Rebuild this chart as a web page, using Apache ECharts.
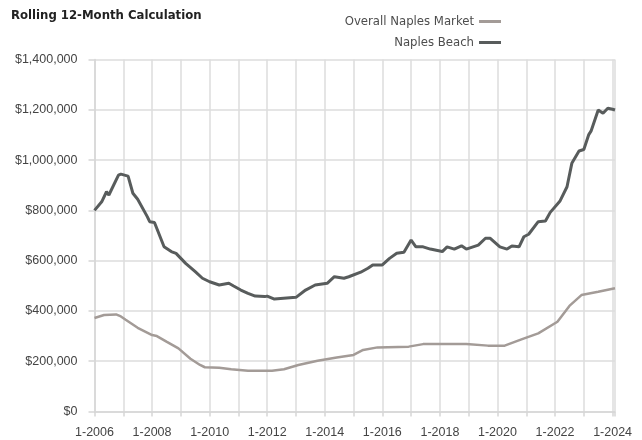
<!DOCTYPE html>
<html>
<head>
<meta charset="utf-8">
<script src="https://cdn.jsdelivr.net/npm/echarts@6/dist/echarts.min.js"></script>
<style>
  html, body { margin: 0; padding: 0; background: #fff; }
  #chart { width: 642px; height: 440px; }
</style>
</head>
<body>
<div id="chart"></div>
<script>
// months counted from 1-2006 (0 = Jan 2006)
const beachMonths = [0, 3, 5, 6, 7, 10, 11, 14, 16, 18, 22, 23, 25, 29, 32, 34, 38, 42, 45, 48,
  52, 56, 58, 61, 64, 67, 71, 72, 75, 84, 88, 92, 97, 100, 104, 106, 111, 114, 116, 120,
  123, 126, 129, 132, 134, 137, 140, 145, 147, 150, 153, 155, 160, 163, 165, 169, 172, 174, 177, 179,
  181, 185, 188, 190, 194, 197, 199, 202, 204, 206, 207, 210, 212, 214, 216, 217]
const beachValues = [800000, 834000, 874000, 861000, 881000, 940000, 944000, 936000, 868000, 844000,
  775000, 755000, 752000, 655000, 636000, 629000, 589000, 556000, 530000, 516000,
  503000, 510000, 499000, 483000, 470000, 459000, 457000, 459000, 447000, 454000,
  483000, 503000, 510000, 536000, 530000, 536000, 554000, 570000, 583000, 583000,
  609000, 629000, 633000, 682000, 655000, 655000, 646000, 636000, 655000, 646000,
  659000, 646000, 662000, 689000, 689000, 655000, 646000, 658000, 655000, 695000,
  705000, 755000, 758000, 792000, 836000, 894000, 987000, 1036000, 1042000, 1100000,
  1115000, 1199000, 1186000, 1206000, 1202000, 1199000]

const marketMonths = [0, 4, 9, 11, 13, 18, 24, 26, 30, 35, 40, 44, 46, 52, 57, 64, 74, 79, 85, 93,
  101, 108, 112, 118, 131, 137, 155, 164, 171, 178, 185, 193, 198, 203, 210, 217]
const marketValues = [372000, 384000, 386000, 378000, 365000, 333000, 304000, 300000, 278000, 251000,
  210000, 185000, 176000, 174000, 168000, 162000, 162000, 168000, 185000, 202000,
  215000, 225000, 245000, 255000, 258000, 268000, 268000, 262000, 262000, 287000,
  311000, 357000, 420000, 463000, 476000, 490000]

const yTicks = [0, 200000, 400000, 600000, 800000, 1000000, 1200000, 1400000]

const seriesNames = ['Overall Naples Market', 'Naples Beach']
const seriesColors = ['#a39b97', '#585c5c']

const narrow = '"Liberation Sans Narrow", "DejaVu Sans Condensed", sans-serif'
const regular = '"Liberation Sans", Arial, sans-serif'

const pairs = (xs, ys) => xs.map((x, i) => [x, ys[i]])

const chart = echarts.init(document.getElementById('chart'), null, { renderer: 'canvas' })

chart.setOption({
  animation: false,
  backgroundColor: '#fff',
  title: {
    text: 'Rolling 12-Month Calculation',
    left: 6,
    top: 4,
    textStyle: { fontFamily: narrow, fontSize: 13, fontWeight: 'bold', color: '#222' }
  },
  legend: {
    data: seriesNames,
    orient: 'vertical',
    right: 136,
    top: 9,
    align: 'right',
    icon: 'rect',
    itemWidth: 22,
    itemHeight: 3,
    itemGap: 6,
    textStyle: { fontFamily: narrow, fontSize: 13, color: '#4d4d4d', lineHeight: 15 }
  },
  grid: { left: 94.5, right: 27, top: 59.5, bottom: 28.5 },
  xAxis: {
    type: 'value',
    min: 0,
    max: 217,
    interval: 12,
    axisLine: { show: true, lineStyle: { color: '#d6d6d6', width: 1.5 } },
    axisTick: { show: true, length: 5, lineStyle: { color: '#d6d6d6', width: 1.5 } },
    splitLine: { show: true, lineStyle: { color: '#dcdcdc', width: 1.5 } },
    axisLabel: {
      fontFamily: regular,
      fontSize: 12.5,
      color: '#444',
      margin: 15,
      showMinLabel: true,
      showMaxLabel: true,
      formatter: v => (v % 24 === 0 ? '1-' + (2006 + v / 12) : '')
    }
  },
  yAxis: {
    type: 'value',
    min: yTicks[0],
    max: yTicks[yTicks.length - 1],
    interval: yTicks[1] - yTicks[0],
    axisLine: { show: true, lineStyle: { color: '#d6d6d6', width: 1.5 } },
    axisTick: { show: true, length: 6, lineStyle: { color: '#d6d6d6', width: 1.5 } },
    splitLine: { show: true, lineStyle: { color: '#dcdcdc', width: 1.5 } },
    axisLabel: {
      fontFamily: regular,
      fontSize: 12.5,
      color: '#444',
      margin: 17,
      formatter: v => '$' + v.toLocaleString('en-US')
    }
  },
  series: [
    {
      name: seriesNames[0],
      type: 'line',
      data: pairs(marketMonths, marketValues),
      showSymbol: false,
      color: seriesColors[0],
      lineStyle: { width: 2.5, color: seriesColors[0] },
      z: 2
    },
    {
      name: seriesNames[1],
      type: 'line',
      data: pairs(beachMonths, beachValues),
      showSymbol: false,
      color: seriesColors[1],
      lineStyle: { width: 3, color: seriesColors[1] },
      z: 3
    }
  ]
})
</script>
</body>
</html>
